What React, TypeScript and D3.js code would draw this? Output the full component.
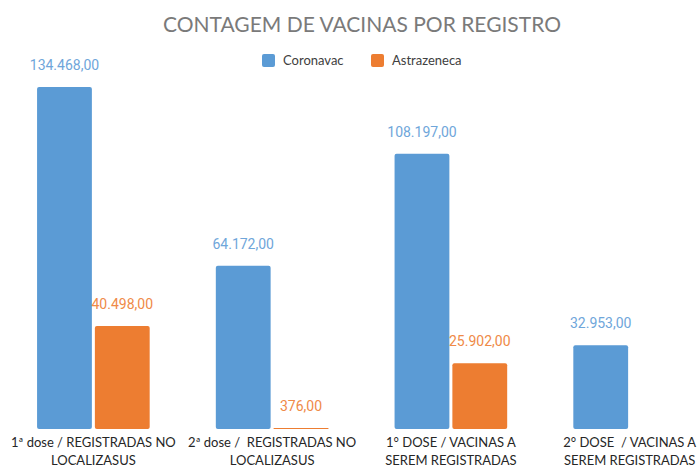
import React from "react";
import * as d3 from "d3";

const categories = [
  ["1ª dose / REGISTRADAS NO", "LOCALIZASUS"],
  ["2ª dose /  REGISTRADAS NO", "LOCALIZASUS"],
  ["1° DOSE / VACINAS A", "SEREM REGISTRADAS"],
  ["2° DOSE  / VACINAS A", "SEREM REGISTRADAS"],
];
const seriesNames = ["Coronavac", "Astrazeneca"];
const coronavac = [134468, 64172, 108197, 32953];
const astrazeneca: (number | null)[] = [40498, 376, 25902, null];
const colors = ["#5B9BD5", "#ED7D31"];
const labelColors = ["#6FA6DA", "#EF8A47"];

const W = 699;
const H = 469;

export default function App() {
  const keys = categories.map((c, i) => String(i));
  const x0 = d3.scaleBand().domain(keys).range([4, 719]).padding(0);
  const bw = x0.bandwidth();
  const x1 = d3
    .scaleBand()
    .domain(seriesNames)
    .range([bw * 0.185, bw * 0.815])
    .paddingInner(0.0517)
    .paddingOuter(0);
  const y = d3.scaleLinear().domain([0, 140000]).range([429, 73]);
  const locale = d3.formatLocale({
    decimal: ",",
    thousands: ".",
    grouping: [3],
    currency: ["R$", ""],
  });
  const fmt = locale.format(",.2f");
  const values = [coronavac, astrazeneca];

  return (
    <svg
      width={W}
      height={H}
      style={{ position: "absolute", left: 0, top: 0, background: "#fff" }}
    >
      <text
        x={362}
        y={32}
        textAnchor="middle"
        fontFamily="Lato"
        fontSize={21}
        fill="#7a7a7a"
      >
        CONTAGEM DE VACINAS POR REGISTRO
      </text>
      {/* legend */}
      <g fontFamily="Lato" fontSize={13} fill="#404040">
        <rect x={262} y={54} width={13} height={13} rx={2} fill={colors[0]} />
        <text x={283} y={65}>{seriesNames[0]}</text>
        <rect x={371} y={54} width={13} height={13} rx={2} fill={colors[1]} />
        <text x={392} y={65}>{seriesNames[1]}</text>
      </g>
      {keys.map((k, ci) => (
        <g key={k} transform={`translate(${x0(k)},0)`}>
          {seriesNames.map((s, si) => {
            const v = values[si][ci];
            if (v == null) return null;
            const bx = x1(s)!;
            const top = y(v);
            const h = Math.max(1, y(0) - top);
            return (
              <g key={s}>
                <rect
                  x={bx}
                  y={y(0) - h}
                  width={x1.bandwidth()}
                  height={h}
                  rx={h > 4 ? 2 : 0}
                  fill={colors[si]}
                />
                <text
                  x={bx + x1.bandwidth() / 2}
                  y={y(0) - h - 17}
                  textAnchor="middle"
                  fontFamily="Roboto"
                  fontSize={14}
                  fill={labelColors[si]}
                >
                  {fmt(v)}
                </text>
              </g>
            );
          })}
          <text
            x={bw / 2}
            y={447}
            textAnchor="middle"
            fontFamily="Lato"
            fontSize={13}
            fill="#262626"
            style={{ whiteSpace: "pre" }}
          >
            {categories[ci][0]}
          </text>
          <text
            x={bw / 2}
            y={465}
            textAnchor="middle"
            fontFamily="Lato"
            fontSize={13}
            fill="#262626"
          >
            {categories[ci][1]}
          </text>
        </g>
      ))}
    </svg>
  );
}
